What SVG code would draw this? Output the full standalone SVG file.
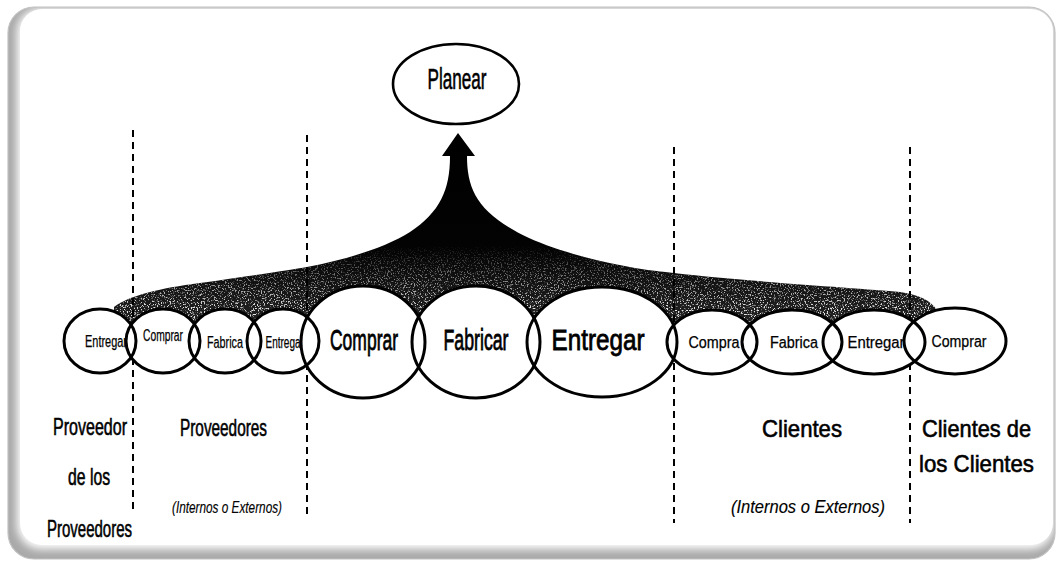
<svg xmlns="http://www.w3.org/2000/svg" width="1059" height="566" viewBox="0 0 1059 566">
<defs>
<style>
.t{font-family:"Liberation Sans",Arial,sans-serif;fill:#000;text-anchor:middle;stroke:#000;stroke-width:0.6}
.sm{font-size:16px;stroke-width:0.25}
.big{font-size:29px;stroke-width:0.8}
.sec{font-size:24px;stroke-width:0.6}
.it{font-style:italic;stroke-width:0.15}
.ring{fill:none;stroke:#000;stroke-width:3}
.bg{fill:#fff;stroke:none}
.dash{stroke:#000;stroke-width:2;stroke-dasharray:7 5;fill:none}
</style>
<linearGradient id="fanGrad" gradientUnits="userSpaceOnUse" x1="0" y1="140" x2="0" y2="320">
<stop offset="0" stop-color="#000"/>
<stop offset="0.6" stop-color="#030303"/>
<stop offset="1" stop-color="#222"/>
</linearGradient>
<linearGradient id="maskGrad" gradientUnits="userSpaceOnUse" x1="0" y1="245" x2="0" y2="310">
<stop offset="0" stop-color="#000"/>
<stop offset="1" stop-color="#fff"/>
</linearGradient>
<filter id="speck" x="0" y="0" width="1" height="1">
<feTurbulence type="fractalNoise" baseFrequency="0.7" numOctaves="2" seed="7"/>
<feColorMatrix type="matrix" values="0 0 0 0 0.8  0 0 0 0 0.8  0 0 0 0 0.8  7 0 0 0 -3.8"/>
</filter>
<filter id="soft" x="-0.05" y="-0.05" width="1.1" height="1.1">
<feGaussianBlur stdDeviation="4"/>
</filter>
<clipPath id="fanClip">
<path d="M458,133 L475,156 L467,156 C467,190 478,214 529,238 C565,254 620,268 674,273 C750,282 860,288 900,292 C920,295 930,300 937,310 L937,336 L114,336 L114,307 C128,296 160,288 200,283 C250,276 290,270 307,267 C350,259 388,246 410,232 C440,212 450,190 450,156 L442,156 Z"/>
</clipPath>
<mask id="fadeMask">
<rect x="100" y="130" width="860" height="220" fill="url(#maskGrad)"/>
</mask>
</defs>

<g id="frame">
<rect x="8" y="7" width="1047" height="552" rx="26" fill="#a9a9a9"/>
<rect x="17" y="8" width="1037" height="541" rx="24" fill="#fff" filter="url(#soft)"/>
<rect x="20" y="9" width="1033" height="536" rx="22" fill="#fff"/>
<rect x="8" y="7" width="1047" height="552" rx="26" fill="none" stroke="#c2c2c2" stroke-width="1.2"/>
</g>

<g id="connectors">
<path d="M458,133 L475,156 L467,156 C467,190 478,214 529,238 C565,254 620,268 674,273 C750,282 860,288 900,292 C920,295 930,300 937,310 L937,336 L114,336 L114,307 C128,296 160,288 200,283 C250,276 290,270 307,267 C350,259 388,246 410,232 C440,212 450,190 450,156 L442,156 Z" fill="url(#fanGrad)"/>
<g clip-path="url(#fanClip)" mask="url(#fadeMask)">
<rect x="100" y="200" width="860" height="140" fill="#fff" filter="url(#speck)"/>
</g>
<line class="dash" x1="133" y1="130" x2="133" y2="514"/>
<line class="dash" x1="307" y1="135" x2="307" y2="514"/>
<line class="dash" x1="674" y1="147" x2="674" y2="523"/>
<line class="dash" x1="910" y1="147" x2="910" y2="523"/>
</g>

<g id="fills">
<ellipse class="bg" cx="100" cy="341" rx="36" ry="32"/>
<ellipse class="bg" cx="163" cy="341" rx="37" ry="32"/>
<ellipse class="bg" cx="225" cy="341" rx="36" ry="32"/>
<ellipse class="bg" cx="283" cy="341" rx="36" ry="32"/>
<ellipse class="bg" cx="363" cy="342" rx="62" ry="56"/>
<ellipse class="bg" cx="476" cy="342" rx="64" ry="56"/>
<ellipse class="bg" cx="602" cy="342" rx="75" ry="55"/>
<ellipse class="bg" cx="712" cy="342" rx="45" ry="32"/>
<ellipse class="bg" cx="792" cy="342" rx="50" ry="32"/>
<ellipse class="bg" cx="874" cy="342" rx="51" ry="32"/>
<ellipse class="bg" cx="955" cy="341" rx="51" ry="33"/>
</g>

<g id="planear">
<ellipse cx="456" cy="84" rx="63" ry="40" fill="#fff" stroke="#000" stroke-width="2.6"/>
<text class="t" x="457" y="89" font-size="29" stroke-width="0.7" textLength="59" lengthAdjust="spacingAndGlyphs">Planear</text>
</g>

<g id="prov2-entregar">
<ellipse class="ring" cx="100" cy="341" rx="36" ry="32"/>
<text class="t sm" x="106" y="347" textLength="42" lengthAdjust="spacingAndGlyphs">Entregar</text>
</g>
<g id="prov-comprar">
<ellipse class="ring" cx="163" cy="341" rx="37" ry="32"/>
<text class="t sm" x="163" y="341" textLength="40" lengthAdjust="spacingAndGlyphs">Comprar</text>
</g>
<g id="prov-fabrica">
<ellipse class="ring" cx="225" cy="341" rx="36" ry="32"/>
<text class="t sm" x="225" y="348" textLength="36" lengthAdjust="spacingAndGlyphs">Fabrica</text>
</g>
<g id="prov-entrega">
<ellipse class="ring" cx="283" cy="341" rx="36" ry="32"/>
<text class="t sm" x="283" y="348" textLength="35" lengthAdjust="spacingAndGlyphs">Entrega</text>
</g>

<g id="comprar">
<ellipse class="ring" cx="363" cy="342" rx="62" ry="56"/>
<text class="t big" x="364" y="350" textLength="68" lengthAdjust="spacingAndGlyphs">Comprar</text>
</g>
<g id="fabricar">
<ellipse class="ring" cx="476" cy="342" rx="64" ry="56"/>
<text class="t big" x="476" y="350" textLength="65" lengthAdjust="spacingAndGlyphs">Fabricar</text>
</g>
<g id="entregar">
<ellipse class="ring" cx="602" cy="342" rx="75" ry="55"/>
<text class="t big" x="598" y="350" textLength="93" lengthAdjust="spacingAndGlyphs">Entregar</text>
</g>

<g id="cli-compra">
<ellipse class="ring" cx="712" cy="342" rx="45" ry="32"/>
<text class="t sm" x="714" y="348" textLength="51" lengthAdjust="spacingAndGlyphs">Compra</text>
</g>
<g id="cli-fabrica">
<ellipse class="ring" cx="792" cy="342" rx="50" ry="32"/>
<text class="t sm" x="794" y="348" textLength="48" lengthAdjust="spacingAndGlyphs">Fabrica</text>
</g>
<g id="cli-entregar">
<ellipse class="ring" cx="874" cy="342" rx="51" ry="32"/>
<text class="t sm" x="876" y="348" textLength="57" lengthAdjust="spacingAndGlyphs">Entregar</text>
</g>
<g id="cli2-comprar">
<ellipse class="ring" cx="955" cy="341" rx="51" ry="33"/>
<text class="t sm" x="959" y="347" textLength="55" lengthAdjust="spacingAndGlyphs">Comprar</text>
</g>

<g id="labels">
<text class="t sec" x="90" y="435" textLength="74" lengthAdjust="spacingAndGlyphs">Proveedor</text>
<text class="t sec" x="89" y="485" textLength="42" lengthAdjust="spacingAndGlyphs">de los</text>
<text class="t sec" x="89.5" y="537" textLength="85" lengthAdjust="spacingAndGlyphs">Proveedores</text>
<text class="t sec" x="223.5" y="436" textLength="87" lengthAdjust="spacingAndGlyphs">Proveedores</text>
<text class="t it" x="227" y="513" font-size="16" textLength="110" lengthAdjust="spacingAndGlyphs">(Internos o Externos)</text>
<text class="t sec" x="802" y="437" textLength="80" lengthAdjust="spacingAndGlyphs">Clientes</text>
<text class="t it" x="808" y="513" font-size="19" textLength="154" lengthAdjust="spacingAndGlyphs">(Internos o Externos)</text>
<text class="t sec" x="976.5" y="437" textLength="109" lengthAdjust="spacingAndGlyphs">Clientes de</text>
<text class="t sec" x="976.5" y="472" textLength="115" lengthAdjust="spacingAndGlyphs">los Clientes</text>
</g>
</svg>
